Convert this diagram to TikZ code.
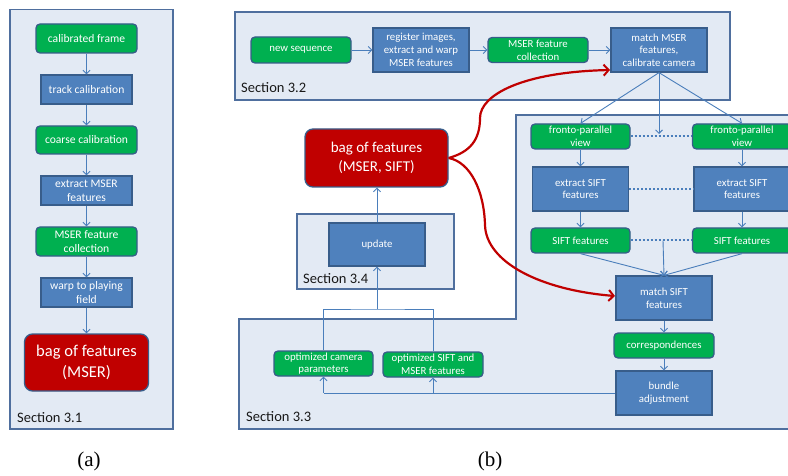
\documentclass[tikz,border=0pt]{standalone}
\usepackage{fontspec}
\setmainfont{Carlito}
\newfontfamily\capfont{Liberation Serif}
\usetikzlibrary{arrows.meta}
\definecolor{nodegreen}{HTML}{00B050}
\definecolor{nodeblue}{HTML}{4F81BD}
\definecolor{nodered}{HTML}{C00000}
\definecolor{nodeedge}{HTML}{385D8A}
\definecolor{panelfill}{HTML}{E3EAF4}
\definecolor{paneledge}{HTML}{4F6F9E}
\definecolor{linkblue}{HTML}{4A7EBB}
\definecolor{linkred}{HTML}{C00000}
\tikzset{
  box/.style={draw=nodeedge, line width=1.3pt, text=white, align=center, inner sep=1pt,
    font=\fontsize{10.8}{12.7}\selectfont},
  gbox/.style={box, fill=nodegreen, rounded corners=4pt},
  bbox/.style={box, fill=nodeblue},
  rbox/.style={box, fill=nodered, rounded corners=8pt, font=\fontsize{15}{19}\selectfont},
  leftsize/.style={font=\fontsize{11.6}{14}\selectfont},
  sz/.style 2 args={minimum width=#1pt, minimum height=#2pt},
  panel/.style={draw=paneledge, fill=panelfill, line width=1.3pt},
  seclabel/.style={anchor=west, inner sep=0pt, text=black!90, font=\fontsize{14.5}{16}\selectfont},
  plain/.style={draw=linkblue, line width=0.9pt},
  link/.style={plain, -{Straight Barb[length=3.5pt,width=7pt,line width=0.9pt]}},
  dotlink/.style={draw=linkblue, line width=2pt, dash pattern=on 2pt off 2pt},
  redlink/.style={draw=linkred, line width=2.2pt, -{Straight Barb[length=5pt,width=11pt,line width=2pt]}},
  caption/.style={inner sep=0pt, font=\capfont\fontsize{21}{21}\selectfont},
}
\begin{document}
\begin{tikzpicture}[x=1pt, y=-1pt]
\useasboundingbox (0,0) rectangle (788,476);
\clip (0,0) rectangle (788,476);

% ---------- panels ----------
\draw[panel] (10,9.5) rectangle (173,429);
\draw[panel] (235,12) rectangle (730,100);
\draw[panel] (516,115) -- (800,115) -- (800,429) -- (239,429) -- (239,319) -- (516,319) -- cycle;
\draw[panel] (297,214) rectangle (454,289);

\node[seclabel] (s31) at (17,418) {Section 3.1};
\node[seclabel] (s32) at (241,88) {Section 3.2};
\node[seclabel] (s33) at (246,417) {Section 3.3};
\node[seclabel] (s34) at (303,279) {Section 3.4};

% ---------- (a): pipeline for the first frame ----------
\node[gbox, leftsize, sz={101}{29}] (cf)  at (86.5,38.5)  {calibrated frame};
\node[bbox, leftsize, sz={91}{29}]  (tc)  at (86.5,89.5)  {track calibration};
\node[gbox, leftsize, sz={101}{28}] (cc)  at (86.5,140)   {coarse calibration};
\node[bbox, leftsize, sz={91}{29}]  (em)  at (86.5,190.5) {extract MSER\\features};
\node[gbox, leftsize, sz={101}{29}] (mfc) at (86.5,241.5) {MSER feature\\collection};
\node[bbox, leftsize, sz={91}{29}]  (wp)  at (86.5,292.5) {warp to playing\\field};
\node[rbox, sz={124}{57}, font=\fontsize{16.5}{20.5}\selectfont] (bag1) at (86.5,362.5) {bag of features\\(MSER)};

\draw[link] (cf) -- (tc);
\draw[link] (tc) -- (cc);
\draw[link] (cc) -- (em);
\draw[link] (em) -- (mfc);
\draw[link] (mfc) -- (wp);
\draw[link] (wp) -- (bag1);

% ---------- (b): Section 3.2 ----------
\node[gbox, sz={100}{26}] (ns)   at (301,50) {new sequence};
\node[bbox, sz={96}{44}]  (reg)  at (421,50) {register images,\\extract and warp\\MSER features};
\node[gbox, sz={100}{25}] (mfc2) at (538,50) {MSER feature\\collection};
\node[bbox, sz={96}{44}]  (mm)   at (659,50) {match MSER\\features,\\calibrate camera};

\draw[link] (ns) -- (reg);
\draw[link] (reg) -- (mfc2);
\draw[link] (mfc2) -- (mm);

% ---------- bag of features and Section 3.4 ----------
\node[rbox, sz={143}{58}] (bag2) at (376.5,158) {bag of features\\(MSER, SIFT)};
\node[bbox, sz={96}{43}] (upd) at (377,244.5) {update};
\draw[link] (upd.north) -- (upd.north |- bag2.south);

% ---------- Section 3.3 ----------
\node[gbox, sz={99}{25}] (fpL) at (580.5,136.5) {fronto-parallel\\view};
\node[gbox, sz={99}{25}] (fpR) at (742,136.5)   {fronto-parallel\\view};
\node[bbox, sz={96}{44}] (esL) at (580.5,189)   {extract SIFT\\features};
\node[bbox, sz={96}{44}] (esR) at (742,189)     {extract SIFT\\features};
\node[gbox, sz={99}{25}] (sfL) at (580.5,240.5) {SIFT features};
\node[gbox, sz={99}{25}] (sfR) at (742,240.5)   {SIFT features};
\node[bbox, sz={96}{44}]  (ms)   at (664,298)   {match SIFT\\features};
\node[gbox, sz={100}{25}] (corr) at (664,345.5) {correspondences};
\node[bbox, sz={96}{44}]  (ba)   at (664,393)   {bundle\\adjustment};
\node[gbox, sz={99}{25}]  (ocp)  at (323.5,363.5) {optimized camera\\parameters};
\node[gbox, sz={100}{25}] (osm)  at (433,364.5)   {optimized SIFT and\\MSER features};

\coordinate (mmdrop) at (659,134);
\draw[link] (mm.south) -- (fpL.north);
\draw[link] (mm.south) -- (fpR.north);
\draw[link] (mm.south) -- (mmdrop);

\draw[dotlink] (fpL) -- (fpR);
\draw[dotlink] (esL) -- (esR);
\draw[dotlink] (sfL) -- (sfR);

\draw[link] (fpL) -- (esL);
\draw[link] (esL) -- (sfL);
\draw[link] (fpR) -- (esR);
\draw[link] (esR) -- (sfR);

\coordinate (siftmid) at (663,240.5);
\draw[link] (sfL.south) -- (ms.north);
\draw[link] (sfR.south) -- (ms.north);
\draw[link] (siftmid) -- (ms.north);

\draw[link] (ms) -- (corr);
\draw[link] (corr) -- (ba);

% bundle adjustment feeds both optimized outputs
\coordinate (botl) at (ocp.south |- ba.west);
\coordinate (botr) at (osm.south |- ba.west);
\draw[plain] (ba.west) -- (botl);
\draw[link] (botl) -- (ocp.south);
\draw[link] (botr) -- (osm.south);

% optimized outputs go to the update step
\coordinate (topbar) at (377,309);
\draw[plain] (ocp.north) |- (topbar) -| (osm.north);
\draw[link] (topbar) -- (upd.south);

% ---------- bag of features used for matching ----------
\coordinate (mmin) at (610,70);
\coordinate (msin) at (615,296);
\draw[redlink] (bag2.east) .. controls (470,152) and (480,140) .. (480,118)
  .. controls (480,95) and (522,72) .. (mmin);
\draw[redlink] (bag2.east) .. controls (470,162) and (484,190) .. (485,225)
  .. controls (486,262) and (540,290) .. (msin);

% ---------- captions ----------
\node[caption] (capa) at (89,461) {(a)};
\node[caption] (capb) at (490,461) {(b)};
\end{tikzpicture}
\end{document}
